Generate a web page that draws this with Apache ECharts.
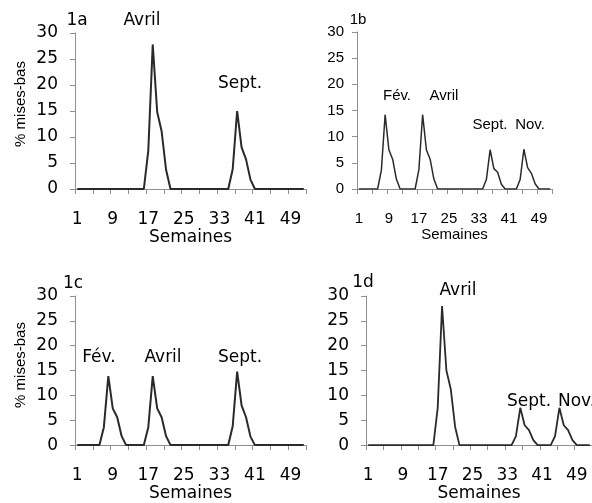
<!DOCTYPE html>
<html><head><meta charset="utf-8">
<script src="https://cdn.jsdelivr.net/npm/echarts@6/dist/echarts.min.js"></script>
<style>html,body{margin:0;padding:0;background:#fff}#c{width:592px;height:503px}</style>
</head><body><div id="c"></div>
<script>
// Weeks 1..52
const weeks = ["1","2","3","4","5","6","7","8","9","10","11","12","13","14","15","16","17","18","19","20","21","22","23","24","25","26","27","28","29","30","31","32","33","34","35","36","37","38","39","40","41","42","43","44","45","46","47","48","49","50","51","52"];
const yTicks = [0, 5, 10, 15, 20, 25, 30];
// % mises-bas per week, panel 1a
const series1a = [0,0,0,0,0,0,0,0,0,0,0,0,0,0,0,0, 7.4,27.8,14.8,11.1,3.7, 0,0,0,0,0,0,0,0,0,0,0,0,0,0, 3.8,15,8,5.7,1.8, 0,0,0,0,0,0,0,0,0,0,0,0];
// panel 1b
const series1b = [0,0,0,0,0,0, 3.6,14.2,7.5,5.7,1.9, 0,0,0,0,0, 3.7,14.2,7.5,5.7,1.9, 0,0,0,0,0,0,0,0,0,0,0,0,0, 1.8,7.5,3.9,3.2,0.9, 0,0,0,0, 1.8,7.6,4.1,3.0,1.0, 0,0,0,0];
// panel 1c
const series1c = [0,0,0,0,0,0, 3.6,13.9,7.4,5.6,1.8, 0,0,0,0,0, 3.6,13.9,7.4,5.6,1.8, 0,0,0,0,0,0,0,0,0,0,0,0,0,0, 3.8,14.8,8,5.6,1.7, 0,0,0,0,0,0,0,0,0,0,0,0];
// panel 1d
const series1d = [0,0,0,0,0,0,0,0,0,0,0,0,0,0,0,0, 7.5,28,15,11.3,3.7, 0,0,0,0,0,0,0,0,0,0,0,0,0, 1.8,7.5,4,3,1, 0,0,0,0, 1.8,7.5,4,3,1.0, 0,0,0,0];
const panelTags = ["1a", "1b", "1c", "1d"];
const xTitle = "Semaines";
const yTitle = "% mises-bas";
const notes1a = ["Avril", "Sept."];
const notes1b = ["Fév.", "Avril", "Sept.", "Nov."];
const notes1c = ["Fév.", "Avril", "Sept."];
const notes1d = ["Avril", "Sept.", "Nov."];

const WIDE = "DejaVu Sans";
const NARROW = "Liberation Sans";
const axisCol = "#8f8f8f";
const lineCol = "#2a2a2a";

const grids = [
  {left: 75, top: 33, width: 231, height: 156},
  {left: 357, top: 32, width: 195, height: 157},
  {left: 75, top: 296, width: 231, height: 155},
  {left: 366, top: 296, width: 238, height: 155}
];
const fonts = [WIDE, NARROW, WIDE, WIDE];
const fsz = [17, 15, 17, 17];
const ymargins = [17, 13, 17, 17];

function xAx(i) {
  return {
    type: 'category', gridIndex: i, data: weeks, boundaryGap: true,
    axisLine: {lineStyle: {color: axisCol, width: 1}},
    axisTick: {show: true, interval: 3, length: 5, lineStyle: {color: axisCol, width: 1}},
    axisLabel: {interval: 7, color: '#000', fontFamily: fonts[i], fontSize: fsz[i], margin: 22},
    name: xTitle, nameLocation: 'middle', nameGap: 38,
    nameTextStyle: {color: '#000', fontFamily: fonts[i], fontSize: fsz[i]}
  };
}
function yAx(i) {
  return {
    type: 'value', gridIndex: i, min: yTicks[0], max: yTicks[yTicks.length - 1], interval: yTicks[1] - yTicks[0],
    axisLine: {show: true, lineStyle: {color: axisCol, width: 1}},
    axisTick: {show: true, length: 5, lineStyle: {color: axisCol, width: 1}},
    splitLine: {show: false},
    axisLabel: {color: '#000', fontFamily: fonts[i], fontSize: fsz[i], margin: ymargins[i]}
  };
}
function ser(i, data, w) {
  return {
    type: 'line', xAxisIndex: i, yAxisIndex: i, data: data, symbol: 'none',
    lineStyle: {color: lineCol, width: w}, animation: false, z: 3
  };
}
function txt(s, x, y, font, size, align, rot) {
  return {
    type: 'text', x: x, y: y, rotation: rot || 0,
    style: {text: s, fill: '#000', font: size + 'px "' + font + '"', textAlign: align || 'center', textVerticalAlign: 'middle'}
  };
}

const chart = echarts.init(document.getElementById('c'), null, {renderer: 'canvas'});
chart.setOption({
  animation: false,
  backgroundColor: '#fff',
  grid: grids,
  xAxis: [xAx(0), xAx(1), xAx(2), xAx(3)],
  yAxis: [yAx(0), yAx(1), yAx(2), yAx(3)],
  series: [ser(0, series1a, 2), ser(1, series1b, 1.5), ser(2, series1c, 2), ser(3, series1d, 1.8)],
  graphic: [
    txt(yTitle, 21, 104, NARROW, 15, 'center', Math.PI / 2),
    txt(yTitle, 21, 365, NARROW, 15, 'center', Math.PI / 2),
    txt(panelTags[0], 77, 21, WIDE, 17),
    txt(notes1a[0], 142, 21, WIDE, 17),
    txt(notes1a[1], 240, 84, WIDE, 17),
    txt(panelTags[1], 358, 20, NARROW, 15),
    txt(notes1b[0], 397, 96, NARROW, 15),
    txt(notes1b[1], 444, 96, NARROW, 15),
    txt(notes1b[2], 490, 125, NARROW, 15),
    txt(notes1b[3], 530, 125, NARROW, 15),
    txt(panelTags[2], 73, 284, WIDE, 17),
    txt(notes1c[0], 99, 358, WIDE, 17),
    txt(notes1c[1], 163, 358, WIDE, 17),
    txt(notes1c[2], 240, 358, WIDE, 17),
    txt(panelTags[3], 363, 283, WIDE, 17),
    txt(notes1d[0], 458, 291, WIDE, 17),
    txt(notes1d[1], 529, 402, WIDE, 17),
    txt(notes1d[2], 558, 402, WIDE, 17, 'left')
  ]
});
</script></body></html>
